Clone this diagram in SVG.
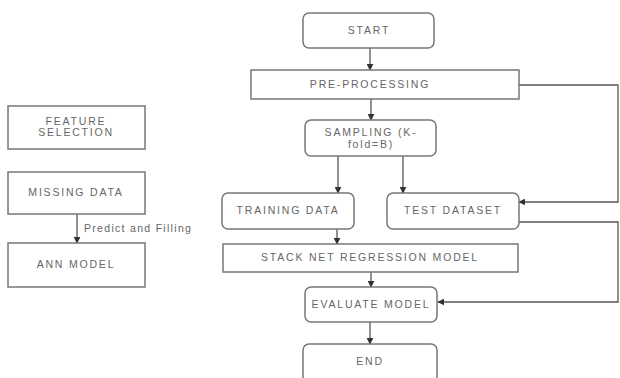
<svg xmlns="http://www.w3.org/2000/svg" width="620" height="378" viewBox="0 0 620 378">
<style>
.b{fill:#fff;stroke:#777;stroke-width:1.5}
.t{font-family:"Liberation Sans",Arial,sans-serif;font-size:10.5px;fill:#666;text-anchor:middle;letter-spacing:1.8px}
.l{fill:none;stroke:#555;stroke-width:1.3}
</style>
<defs>
<marker id="a" viewBox="0 0 10 10" refX="9" refY="5" markerWidth="7" markerHeight="7" orient="auto" markerUnits="userSpaceOnUse"><path d="M0,0L10,5L0,10z" fill="#333"/></marker>
</defs>
<rect width="620" height="378" fill="#fff"/>
<g id="connectors">
<path class="l" d="M370,48V70" marker-end="url(#a)"/>
<path class="l" d="M371,99V120" marker-end="url(#a)"/>
<path class="l" d="M338,156V193" marker-end="url(#a)"/>
<path class="l" d="M403,156V193" marker-end="url(#a)"/>
<path class="l" d="M519,85H618V202H519" marker-end="url(#a)"/>
<path class="l" d="M519,222H618V302H438" marker-end="url(#a)"/>
<path class="l" d="M337,229V244" marker-end="url(#a)"/>
<path class="l" d="M371,272V287" marker-end="url(#a)"/>
<path class="l" d="M370,322V344" marker-end="url(#a)"/>
<path class="l" d="M77,214V243" marker-end="url(#a)"/>
<text class="t" x="84" y="232" style="text-anchor:start;letter-spacing:1.3px">Predict and Filling</text>
</g>
<g id="start"><rect class="b" x="303" y="13" width="131" height="35" rx="6"/><text class="t" x="369" y="34">START</text></g>
<g id="preprocessing"><rect class="b" x="251" y="70" width="268" height="29"/><text class="t" x="370" y="88">PRE-PROCESSING</text></g>
<g id="sampling"><rect class="b" x="305" y="120" width="131" height="36" rx="6"/><text class="t" x="371" y="136">SAMPLING (K-</text><text class="t" x="371" y="148">fold=B)</text></g>
<g id="training"><rect class="b" x="222" y="193" width="132" height="36" rx="6"/><text class="t" x="288" y="214">TRAINING DATA</text></g>
<g id="test"><rect class="b" x="387" y="193" width="132" height="36" rx="6"/><text class="t" x="453" y="214">TEST DATASET</text></g>
<g id="stacknet"><rect class="b" x="223" y="244" width="295" height="28"/><text class="t" x="370" y="261">STACK NET REGRESSION MODEL</text></g>
<g id="evaluate"><rect class="b" x="305" y="287" width="132" height="35" rx="6"/><text class="t" x="371" y="308">EVALUATE MODEL</text></g>
<g id="end"><rect class="b" x="303" y="344" width="134" height="40" rx="6"/><text class="t" x="370" y="365">END</text></g>
<g id="feature"><rect class="b" x="8" y="106" width="137" height="43"/><text class="t" x="76" y="125">FEATURE</text><text class="t" x="76" y="136">SELECTION</text></g>
<g id="missing"><rect class="b" x="8" y="172" width="137" height="42"/><text class="t" x="76" y="196">MISSING DATA</text></g>
<g id="ann"><rect class="b" x="8" y="243" width="137" height="44"/><text class="t" x="76" y="268">ANN MODEL</text></g>
</svg>
